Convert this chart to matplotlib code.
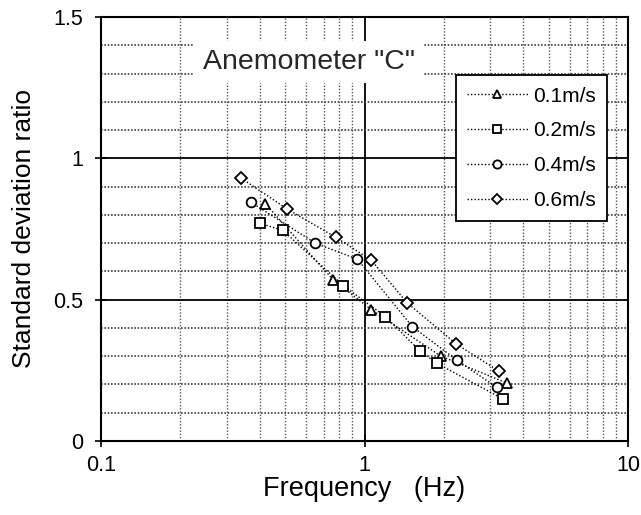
import numpy as np
import matplotlib.pyplot as plt
from matplotlib.ticker import FixedLocator, NullFormatter

plt.rcParams['font.family'] = ['Liberation Sans', 'DejaVu Sans']

# standard deviation ratio against frequency, one series per wind speed
freq_01 = [0.42, 0.76, 1.06, 1.95, 3.47]
ratio_01 = [0.84, 0.57, 0.465, 0.30, 0.205]

freq_02 = [0.40, 0.49, 0.83, 1.20, 1.63, 1.88, 3.36]
ratio_02 = [0.77, 0.745, 0.55, 0.44, 0.317, 0.275, 0.148]

freq_04 = [0.37, 0.65, 0.94, 1.52, 2.25, 3.17]
ratio_04 = [0.845, 0.70, 0.643, 0.404, 0.285, 0.19]

freq_06 = [0.34, 0.51, 0.78, 1.06, 1.45, 2.23, 3.25]
ratio_06 = [0.93, 0.82, 0.72, 0.64, 0.489, 0.343, 0.246]

labels = ['0.1m/s', '0.2m/s', '0.4m/s', '0.6m/s']
markers = ['^', 's', 'o', 'D']
msizes = [7.5, 7, 7, 6]

fig = plt.figure(figsize=(6.41, 5.15), dpi=100)
ax = fig.add_axes([0.1576, 0.1437, 0.8222, 0.8233])

ax.set_xscale('log')
ax.set_xlim(0.1, 10)
ax.set_ylim(0, 1.5)

# grid: solid at the decades / every 0.5, dotted in between
ax.xaxis.set_major_locator(FixedLocator([0.1, 1, 10]))
ax.xaxis.set_minor_locator(FixedLocator([k * d for d in (0.1, 1) for k in range(2, 10)]))
ax.xaxis.set_minor_formatter(NullFormatter())
ax.set_xticklabels(['0.1', '1', '10'])
ax.yaxis.set_major_locator(FixedLocator([0, 0.5, 1, 1.5]))
ax.yaxis.set_minor_locator(FixedLocator(np.arange(0.1, 1.5, 0.1)))
ax.set_yticklabels(['0', '0.5', '1', '1.5'])

ax.grid(which='major', color='black', linewidth=1.3, linestyle='-')
ax.grid(which='minor', axis='y', color='0.25', linewidth=1.2, linestyle=(0, (1, 1)))
ax.grid(which='minor', axis='x', color='0.35', linewidth=1.0, linestyle=(0, (1, 1.3)))
ax.set_axisbelow(True)

ax.tick_params(which='major', direction='inout', length=8, width=1.2, labelsize=15.5)
ax.tick_params(axis='y', pad=9)
ax.tick_params(axis='x', pad=6)
ax.tick_params(which='minor', length=0)
for side in ('left', 'bottom', 'top', 'right'):
    ax.spines[side].set_linewidth(1.5)

series = [(freq_01, ratio_01), (freq_02, ratio_02), (freq_04, ratio_04), (freq_06, ratio_06)]
for (f, r), lab, m, ms in zip(series, labels, markers, msizes):
    ax.plot(f, r, color='black', linestyle=(0, (1, 1.5)), linewidth=1.0,
            marker=m, markersize=ms, markerfacecolor='white', markeredgecolor='black',
            markeredgewidth=1.3, label=lab)

ax.text(0.613, 1.34, 'Anemometer "C"', fontsize=20.5, ha='center', va='center', color='0.15',
        bbox=dict(facecolor='white', edgecolor='none', pad=6))

leg = ax.legend(loc='upper right', bbox_to_anchor=(0.960, 0.863), fontsize=15,
                frameon=True, fancybox=False, edgecolor='black', framealpha=1,
                handlelength=2.9, handletextpad=0.25, labelspacing=0.76, borderpad=0.55,
                borderaxespad=0, markerscale=0.85)
leg.get_frame().set_linewidth(1.3)

ax.set_xlabel('Frequency   (Hz)', fontsize=19.5, labelpad=0)
ax.set_ylabel('Standard deviation ratio', fontsize=19, labelpad=12)

fig.savefig('out.png', dpi=100)
